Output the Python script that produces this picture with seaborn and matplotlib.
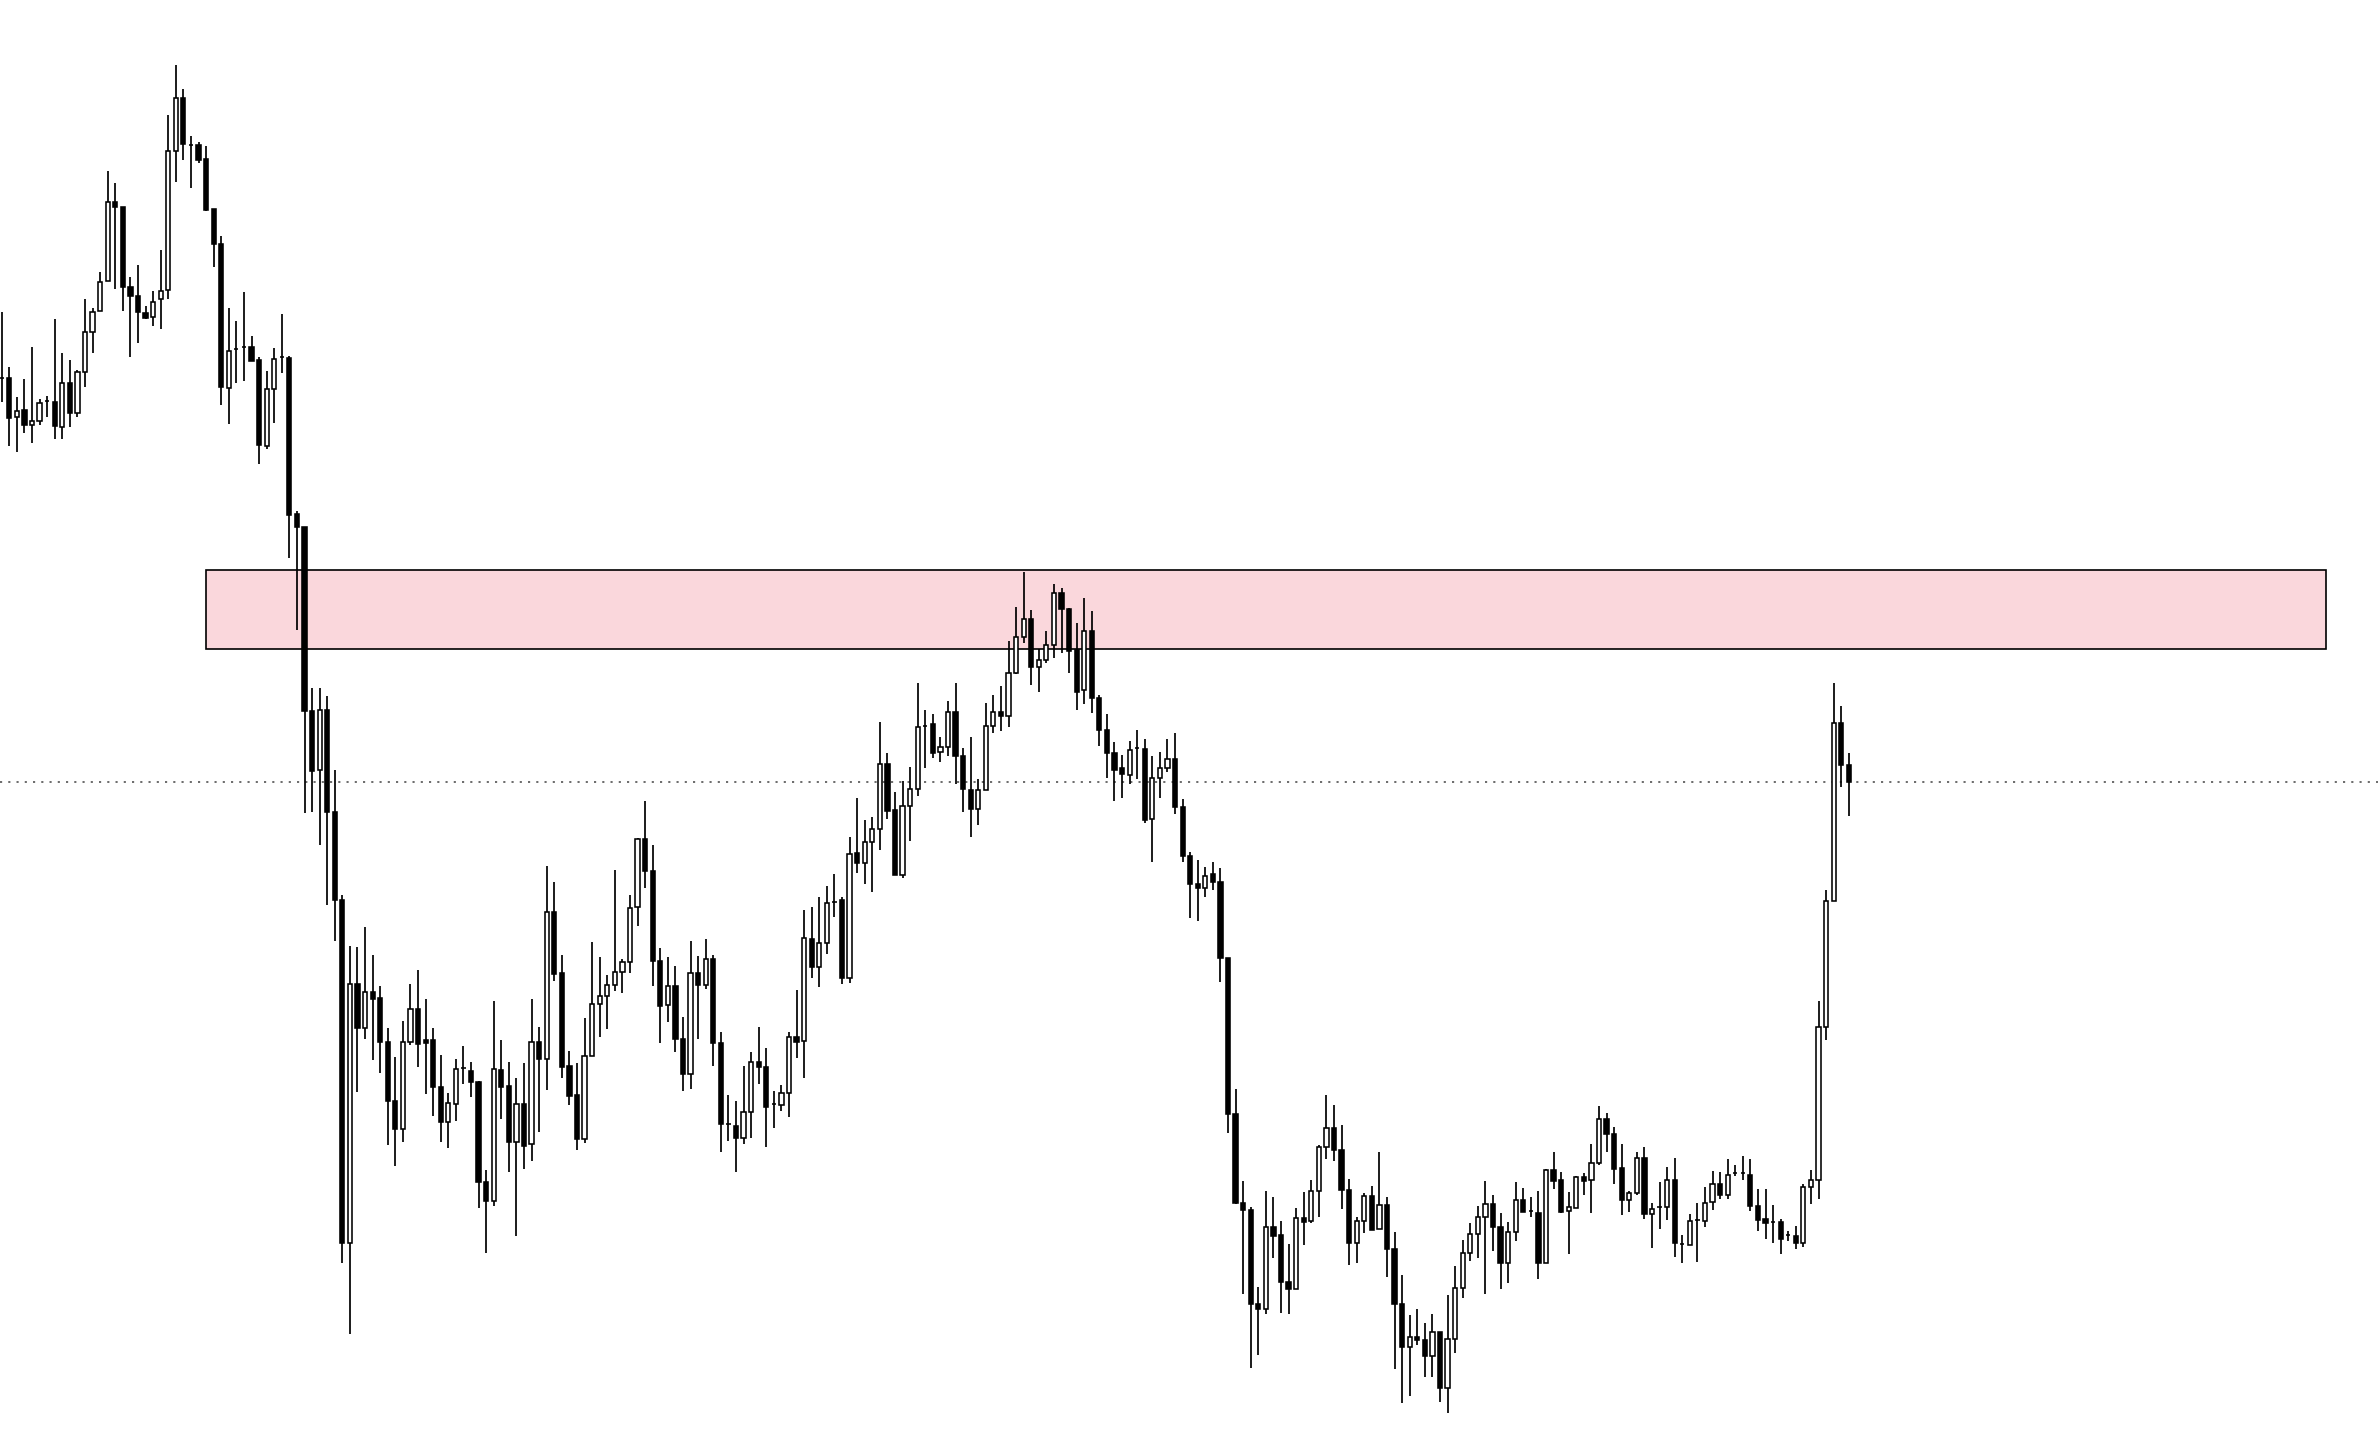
import numpy as np
import pandas as pd
import matplotlib
matplotlib.use("Agg")
import matplotlib.pyplot as plt
from matplotlib.patches import Rectangle
import seaborn as sns

opens = [
    1076, 1076, 1037, 1044, 1029, 1033, 1053, 1052, 1027, 1071,
    1041, 1082, 1122, 1143, 1173, 1252, 1247, 1167, 1158, 1141,
    1137, 1155, 1164, 1303, 1356, 1309, 1309, 1295, 1245, 1210,
    1066, 1105, 1107, 1107, 1094, 1008, 1065, 1097, 1096, 940,
    927, 743, 684, 744, 642, 554, 211, 470, 426, 462,
    456, 412, 353, 325, 412, 445, 414, 414, 367, 332,
    350, 386, 383, 372, 272, 253, 384, 368, 312, 350,
    310, 412, 395, 542, 481, 388, 359, 315, 398, 450,
    458, 469, 482, 492, 547, 615, 583, 493, 449, 468,
    415, 380, 481, 469, 495, 411, 330, 328, 316, 342,
    392, 387, 350, 349, 361, 417, 413, 515, 487, 511,
    552, 554, 476, 601, 591, 612, 625, 690, 644, 579,
    648, 665, 728, 730, 702, 707, 742, 698, 664, 645,
    664, 728, 742, 738, 781, 817, 835, 787, 794, 809,
    861, 845, 804, 764, 823, 756, 724, 701, 686, 679,
    706, 705, 635, 676, 686, 695, 647, 598, 570, 566,
    580, 572, 496, 340, 251, 244, 150, 145, 227, 219,
    172, 165, 236, 233, 263, 307, 326, 304, 264, 211,
    233, 258, 225, 249, 205, 150, 107, 117, 114, 98,
    122, 66, 115, 166, 201, 220, 237, 250, 227, 191,
    222, 254, 243, 241, 191, 284, 274, 243, 246, 277,
    274, 291, 335, 320, 286, 254, 261, 296, 240, 247,
    247, 274, 210, 209, 234, 233, 252, 270, 259, 281,
    281, 279, 248, 235, 232, 232, 219, 218, 211, 267,
    274, 427, 553, 731, 689,
]

highs = [
    1142, 1087, 1057, 1075, 1107, 1055, 1058, 1135, 1101, 1094,
    1084, 1155, 1146, 1182, 1283, 1271, 1247, 1177, 1189, 1148,
    1163, 1204, 1339, 1389, 1365, 1318, 1312, 1308, 1245, 1218,
    1146, 1133, 1162, 1118, 1097, 1083, 1106, 1140, 1098, 943,
    927, 766, 766, 758, 684, 559, 508, 507, 527, 499,
    468, 426, 397, 433, 470, 484, 455, 426, 399, 361,
    395, 408, 392, 373, 284, 453, 414, 392, 376, 391,
    455, 427, 588, 572, 499, 403, 391, 436, 512, 497,
    479, 584, 495, 559, 616, 653, 609, 506, 497, 488,
    437, 513, 498, 515, 499, 422, 359, 353, 388, 402,
    427, 406, 363, 369, 422, 464, 544, 547, 557, 568,
    580, 557, 617, 656, 634, 637, 732, 701, 662, 673,
    687, 771, 744, 740, 717, 753, 771, 706, 717, 675,
    751, 759, 768, 813, 847, 882, 844, 805, 823, 870,
    866, 846, 831, 856, 843, 759, 740, 712, 699, 713,
    724, 715, 698, 702, 715, 721, 655, 602, 594, 587,
    592, 586, 496, 365, 273, 247, 167, 263, 257, 233,
    210, 246, 262, 274, 309, 359, 349, 329, 275, 237,
    261, 268, 302, 257, 222, 179, 139, 145, 131, 140,
    122, 159, 188, 214, 231, 248, 273, 259, 241, 232,
    272, 266, 257, 263, 285, 302, 282, 262, 278, 281,
    310, 348, 341, 327, 310, 263, 302, 307, 251, 272,
    287, 296, 219, 240, 251, 267, 283, 282, 295, 289,
    298, 295, 265, 265, 249, 235, 223, 228, 270, 284,
    453, 564, 771, 748, 701,
]

lows = [
    1052, 1008, 1002, 1021, 1011, 1029, 1037, 1015, 1015, 1027,
    1037, 1067, 1101, 1143, 1173, 1165, 1143, 1097, 1111, 1135,
    1128, 1125, 1155, 1272, 1294, 1266, 1291, 1243, 1187, 1049,
    1030, 1071, 1073, 1093, 990, 1005, 1031, 1081, 896, 824,
    641, 642, 609, 549, 513, 191, 120, 362, 415, 394,
    381, 309, 288, 312, 409, 387, 360, 338, 312, 306,
    333, 370, 357, 246, 201, 248, 335, 282, 218, 285,
    293, 322, 364, 473, 376, 349, 304, 311, 398, 417,
    425, 463, 461, 481, 528, 566, 468, 411, 432, 402,
    363, 365, 415, 465, 388, 302, 313, 282, 310, 316,
    370, 307, 326, 343, 337, 396, 376, 476, 467, 500,
    537, 470, 471, 581, 570, 562, 604, 635, 579, 576,
    613, 658, 686, 696, 692, 698, 670, 642, 617, 629,
    664, 721, 723, 727, 780, 811, 769, 762, 791, 796,
    801, 781, 744, 750, 741, 708, 676, 653, 656, 670,
    675, 631, 592, 656, 682, 640, 592, 536, 533, 557,
    564, 472, 321, 250, 160, 86, 99, 140, 196, 141,
    140, 165, 209, 231, 237, 295, 293, 245, 189, 191,
    221, 224, 225, 177, 85, 51, 58, 109, 77, 77,
    52, 41, 101, 156, 193, 196, 160, 203, 165, 171,
    213, 242, 237, 175, 191, 265, 241, 200, 246, 259,
    241, 289, 302, 270, 239, 242, 259, 235, 206, 225,
    234, 197, 191, 209, 192, 227, 244, 255, 255, 278,
    274, 243, 223, 215, 211, 200, 213, 205, 207, 250,
    255, 414, 553, 667, 638,
]

closes = [
    1076, 1036, 1043, 1029, 1033, 1051, 1053, 1028, 1071, 1041,
    1082, 1122, 1142, 1172, 1252, 1247, 1167, 1158, 1142, 1136,
    1152, 1163, 1303, 1356, 1310, 1309, 1294, 1244, 1210, 1067,
    1103, 1105, 1107, 1093, 1009, 1065, 1095, 1097, 939, 927,
    743, 683, 744, 642, 554, 211, 470, 426, 462, 455,
    412, 353, 325, 412, 445, 410, 411, 367, 332, 351,
    385, 386, 372, 272, 253, 385, 367, 312, 350, 308,
    412, 395, 542, 480, 387, 358, 315, 398, 450, 458,
    469, 482, 492, 546, 615, 583, 493, 448, 468, 415,
    380, 481, 469, 495, 411, 330, 330, 316, 342, 392,
    387, 347, 350, 361, 417, 412, 516, 487, 511, 551,
    552, 476, 600, 591, 612, 625, 690, 643, 579, 648,
    665, 727, 728, 701, 707, 742, 698, 665, 645, 664,
    728, 742, 738, 781, 817, 835, 787, 794, 809, 861,
    845, 803, 762, 823, 756, 724, 701, 684, 680, 704,
    706, 634, 676, 686, 695, 647, 598, 570, 566, 578,
    572, 496, 340, 251, 244, 150, 145, 227, 218, 172,
    165, 236, 232, 263, 307, 326, 304, 264, 211, 233,
    258, 224, 249, 205, 150, 107, 117, 114, 98, 122,
    66, 115, 166, 201, 220, 237, 250, 227, 191, 222,
    254, 242, 243, 191, 284, 273, 242, 247, 277, 273,
    291, 335, 320, 285, 254, 261, 296, 240, 245, 247,
    274, 211, 210, 233, 234, 251, 270, 259, 279, 281,
    281, 248, 234, 231, 232, 215, 219, 211, 267, 274,
    427, 553, 731, 689, 672,
]

# supply zone (price band) and the bar index range it spans
zone_low = 805
zone_high = 884
zone_start = 27
zone_end = 307

df = pd.DataFrame({"open": opens, "high": highs, "low": lows, "close": closes})
df["idx"] = np.arange(len(df))
df["up"] = df["close"] >= df["open"]
df["bottom"] = df[["open", "close"]].min(axis=1)
df["height"] = (df["close"] - df["open"]).abs().clip(lower=0.01)

sns.set_theme(style="white")
plt.rcParams["font.family"] = ["DejaVu Sans"]

fig = plt.figure(figsize=(23.78, 14.54), dpi=100)
ax = fig.add_axes([0, 0, 1, 1])
ax.set_facecolor("white")
fig.patch.set_facecolor("white")

# zone rectangle
ax.add_patch(Rectangle((zone_start, zone_low), zone_end - zone_start,
                       zone_high - zone_low, facecolor="#FAD7DC",
                       edgecolor="black", linewidth=1.2, zorder=1))

# last price dotted line
ax.axhline(df["close"].iloc[-1], color="#444444", linewidth=1.1,
           linestyle=(0, (1.4, 4.0)), zorder=2)

# wicks
ax.vlines(df["idx"], df["low"], df["high"], color="black", linewidth=1.25, zorder=3)

# bodies
bw = 0.56
up = df[df["up"]]
dn = df[~df["up"]]
ax.bar(up["idx"], up["height"], width=bw, bottom=up["bottom"],
       facecolor="white", edgecolor="black", linewidth=1.15, zorder=4)
ax.bar(dn["idx"], dn["height"], width=bw, bottom=dn["bottom"],
       facecolor="black", edgecolor="black", linewidth=1.15, zorder=4)

ax.set_xlim(-0.2246, 313.91)
ax.set_ylim(0, 1454)
ax.axis("off")

fig.savefig("out.png", dpi=100, facecolor="white")
